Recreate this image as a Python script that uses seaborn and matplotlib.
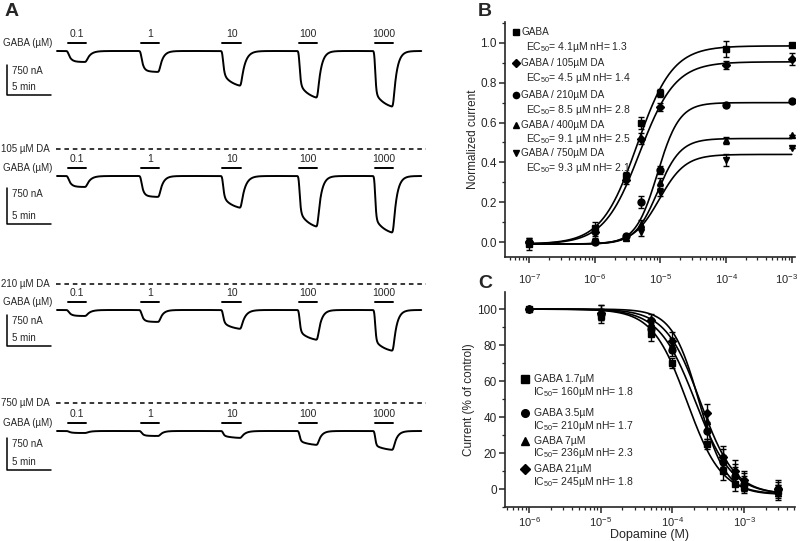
import numpy as np
import pandas as pd
import matplotlib
matplotlib.use("Agg")
import matplotlib.pyplot as plt
import matplotlib.transforms as mtransforms
import seaborn as sns
from matplotlib.ticker import LogLocator, MultipleLocator, NullFormatter

sns.set_style("ticks")
plt.rcParams['font.family'] = ['Liberation Sans', 'DejaVu Sans']
plt.rcParams['mathtext.fontset'] = 'custom'
plt.rcParams['mathtext.rm'] = 'Liberation Sans'
plt.rcParams['mathtext.it'] = 'Liberation Sans'

# ---------------- data ----------------
# Panel A: peak inward current for each GABA pulse (nA)
gaba_doses = ["0.1", "1", "10", "100", "1000"]
da_labels = ["", "105 µM DA", "210 µM DA", "750 µM DA"]
peak_ctrl = [275, 525, 875, 1175, 1400]
peak_da105 = [229, 437, 667, 1062, 1187]
peak_da210 = [145, 290, 460, 726, 992]
peak_da750 = [47, 117, 164, 328, 445]
pulse_start = [1.2, 9.5, 18.8, 27.5, 36.1]   # min
pulse_len = 2.1                               # min

# Panel B: GABA concentration-response with dopamine
gaba_conc = [1e-7, 1e-6, 3e-6, 5e-6, 1e-5, 1e-4, 1e-3]
b_gaba = [-0.01, 0.07, 0.33, 0.60, 0.75, 0.97, 0.99]
b_gaba_err = [0.03, 0.03, 0.02, 0.03, 0.02, 0.04, 0.01]
b_da105 = [0.00, 0.05, 0.31, 0.52, 0.68, 0.89, 0.92]
b_da105_err = [0.02, 0.02, 0.02, 0.03, 0.02, 0.02, 0.03]
b_da210 = [0.00, 0.00, 0.03, 0.20, 0.36, 0.69, 0.71]
b_da210_err = [0.01, 0.01, 0.01, 0.03, 0.02, 0.01, 0.00]
b_da400 = [0.00, 0.01, 0.02, 0.09, 0.30, 0.51, 0.54]
b_da400_err = [0.01, 0.01, 0.01, 0.02, 0.02, 0.02, 0.00]
b_da750 = [-0.01, 0.00, 0.02, 0.05, 0.25, 0.41, 0.47]
b_da750_err = [0.01, 0.01, 0.01, 0.02, 0.02, 0.03, 0.00]
# fitted curve parameters (top, EC50, nH)
b_fit_top = [0.985, 0.905, 0.70, 0.52, 0.44]
b_fit_ec50 = [4.4e-6, 4.8e-6, 9.0e-6, 9.1e-6, 9.6e-6]
b_fit_nh = [1.6, 1.6, 2.6, 2.5, 2.2]
b_names = ["GABA", "GABA / 105µM DA", "GABA / 210µM DA", "GABA / 400µM DA", "GABA / 750µM DA"]
b_stats = ["4.1µM nH= 1.3", "4.5 µM nH= 1.4", "8.5 µM nH= 2.8", "9.1 µM nH= 2.5", "9.3 µM nH= 2.1"]

# Panel C: dopamine inhibition at several GABA concentrations
da_conc = [1e-6, 1e-5, 5e-5, 1e-4, 3e-4, 5e-4, 7.5e-4, 1e-3, 3e-3]
c_g17 = [100, 96, 86, 70, 25, 10, 3, 1, -1]
c_g17_err = [1, 4, 4, 3, 3, 5, 4, 3, 3]
c_g35 = [100, 97, 89, 77, 32, 15, 7, 3, 0]
c_g35_err = [1, 3, 3, 3, 4, 4, 5, 4, 4]
c_g7 = [100, 99, 92, 80, 38, 17, 9, 4, -2]
c_g7_err = [1, 3, 3, 4, 5, 5, 5, 5, 4]
c_g21 = [100, 98, 94, 82, 42, 18, 10, 5, 0]
c_g21_err = [1, 4, 3, 5, 5, 6, 6, 5, 5]
c_fit_ic50 = [160e-6, 210e-6, 236e-6, 245e-6]
c_fit_nh = [1.8, 1.7, 2.3, 1.8]
c_names = ["GABA 1.7µM", "GABA 3.5µM", "GABA 7µM", "GABA 21µM"]
c_stats = ["160µM nH= 1.8", "210µM nH= 1.7", "236µM nH= 2.3", "245µM nH= 1.8"]

fig = plt.figure(figsize=(8, 5.41), dpi=100)

# ---------------- Panel A (drawn in pixel units) ----------------
axA = fig.add_axes([0, 0, 470 / 800, 1])
axA.set_xlim(0, 470)
axA.set_ylim(541, 0)
axA.axis("off")

peaks = [peak_ctrl, peak_da105, peak_da210, peak_da750]
row_base = [51, 176, 310, 431]
row_scale = [30, 36, 31, 32]      # px per 750 nA
row_dash = [None, 149, 284, 403]
row_vtop = [65, 188, 315, 438]
x0, px_min = 57, 8.8
# onset: fast fraction + slow component; recovery: single exponential
fast_frac = [0.95, 0.9, 0.6, 0.65, 0.7]
tau_fast = [0.3, 0.22, 0.12, 0.1, 0.08]
tau_slow = 1.2
tau_off = [0.45, 0.4, 0.45, 0.4, 0.4]

t = np.linspace(-1, 42.5, 4000)
dt = t[1] - t[0]
kern = np.exp(-0.5 * (np.arange(-40, 41) * dt / 0.08) ** 2)
kern /= kern.sum()

for r in range(4):
    base = row_base[r]
    k = row_scale[r] / 750
    cur = np.zeros_like(t)
    for i, amp in enumerate(peaks[r]):
        ts, te = pulse_start[i], pulse_start[i] + pulse_len
        f = fast_frac[i]

        def shape(tt):
            return f * (1 - np.exp(-tt / tau_fast[i])) + (1 - f) * (1 - np.exp(-tt / tau_slow))

        on = (t >= ts) & (t < te)
        cur[on] += amp * shape(t[on] - ts) / shape(pulse_len)
        off = t >= te
        cur[off] += amp * np.exp(-(t[off] - te) / tau_off[i])
    cur = np.convolve(np.pad(cur, 40, mode="edge"), kern, mode="valid")
    keep = (t >= 0) & (t <= 41.4)
    axA.plot(x0 + t[keep] * px_min, base + cur[keep] * k, color="k", lw=1.4)

    # pulse bars and labels
    for i, dose in enumerate(gaba_doses):
        xs = x0 + pulse_start[i] * px_min
        xe = xs + pulse_len * px_min
        axA.plot([xs, xe], [base - 8, base - 8], color="k", lw=1.4)
        axA.text((xs + xe) / 2, base - 12, dose, ha="center", va="bottom", fontsize=7.5)
    axA.text(52, base - 8, "GABA (µM)", ha="right", va="center", fontsize=7)

    # scale bar
    vb = row_vtop[r] + row_scale[r]
    axA.plot([7, 7, 51], [row_vtop[r], vb, vb], color="k", lw=1.1)
    axA.text(12, row_vtop[r] + 6, "750 nA", ha="left", va="center", fontsize=7)
    axA.text(12, vb - 3, "5 min", ha="left", va="bottom", fontsize=7)

    if row_dash[r] is not None:
        axA.plot([56, 426], [row_dash[r]] * 2, color="k", lw=1.1, ls=(0, (3, 2.5)))
        axA.text(1, row_dash[r], da_labels[r], ha="left", va="center", fontsize=7)

fig.text(5 / 800, 1 - 12 / 541, "A", fontsize=14, fontweight="bold", va="center")
fig.text(478 / 800, 1 - 12 / 541, "B", fontsize=14, fontweight="bold", va="center")
fig.text(478 / 800, 1 - 283 / 541, "C", fontsize=14, fontweight="bold", va="center")


def style_axis(ax):
    sns.despine(ax=ax)
    for s in ["left", "bottom"]:
        ax.spines[s].set_linewidth(1.2)
    ax.tick_params(which="major", direction="out", length=4, width=1.1, labelsize=8.5, pad=2)
    ax.tick_params(which="minor", direction="out", length=2.2, width=0.9)
    ax.tick_params(axis="x", which="major", labelsize=8)
    ax.set_xscale("log")
    ax.xaxis.set_minor_locator(LogLocator(base=10, subs=np.arange(2, 10)))
    ax.xaxis.set_minor_formatter(NullFormatter())


# ---------------- Panel B ----------------
axB = fig.add_axes([505 / 800, 1 - 257 / 541, 290 / 800, 235 / 541])
style_axis(axB)
b_series = [(b_gaba, b_gaba_err, "s"), (b_da105, b_da105_err, "D"), (b_da210, b_da210_err, "o"),
            (b_da400, b_da400_err, "^"), (b_da750, b_da750_err, "v")]
xf = np.logspace(-7, -3, 300)
for i, (vals, errs, mk) in enumerate(b_series):
    yf = -0.01 + (b_fit_top[i] + 0.01) * xf ** b_fit_nh[i] / (xf ** b_fit_nh[i] + b_fit_ec50[i] ** b_fit_nh[i])
    sns.lineplot(x=xf, y=yf, ax=axB, color="k", lw=1.2)
    axB.errorbar(gaba_conc, vals, yerr=errs, fmt=mk, color="k",
                 ms=4.5 if mk == "D" else 5, capsize=2.5, elinewidth=1, capthick=1)
axB.set_xlim(10 ** -7.37, 10 ** -2.95)
axB.set_xticks([1e-7, 1e-6, 1e-5, 1e-4, 1e-3])
axB.yaxis.set_major_locator(MultipleLocator(0.2))
axB.yaxis.set_minor_locator(MultipleLocator(0.1))
axB.set_ylim(-0.075, 1.105)
axB.yaxis.set_major_formatter(plt.FuncFormatter(lambda v, p: f"{v:.1f}"))
axB.set_ylabel("Normalized current", fontsize=8.5, labelpad=1)
axB.xaxis.set_tick_params(pad=7)
# nudge the last tick label so it stays inside the figure
last = axB.get_xticklabels()[-1]
last.set_transform(last.get_transform() + mtransforms.ScaledTranslation(-4 / 72, 0, fig.dpi_scale_trans))

leg_y = [0.957, 0.826, 0.689, 0.562, 0.443]
stat_y = [0.894, 0.762, 0.626, 0.502, 0.379]
for i, (vals, errs, mk) in enumerate(b_series):
    axB.plot([0.038], [leg_y[i]], marker=mk, color="k", ms=4.5, transform=axB.transAxes, clip_on=False)
    axB.text(0.056, leg_y[i], b_names[i], transform=axB.transAxes, fontsize=7.2, va="center")
    axB.text(0.072, stat_y[i], "EC$_{50}$= " + b_stats[i], transform=axB.transAxes, fontsize=7.5, va="center")

# ---------------- Panel C ----------------
axC = fig.add_axes([505 / 800, 1 - 507 / 541, 290 / 800, 215 / 541])
style_axis(axC)
c_series = [(c_g17, c_g17_err, "s"), (c_g35, c_g35_err, "o"), (c_g7, c_g7_err, "^"), (c_g21, c_g21_err, "D")]
xf = np.logspace(-6, np.log10(3e-3), 300)
for i, (vals, errs, mk) in enumerate(c_series):
    yf = -3 + 103 / (1 + (xf / c_fit_ic50[i]) ** c_fit_nh[i])
    sns.lineplot(x=xf, y=yf, ax=axC, color="k", lw=1.2)
    axC.errorbar(da_conc, vals, yerr=errs, fmt=mk, color="k",
                 ms=4.5 if mk == "D" else 5, capsize=2.5, elinewidth=1, capthick=1)
axC.set_xlim(10 ** -6.335, 10 ** -2.29)
axC.set_xticks([1e-6, 1e-5, 1e-4, 1e-3])
axC.yaxis.set_major_locator(MultipleLocator(20))
axC.yaxis.set_minor_locator(MultipleLocator(10))
axC.set_ylim(-10, 109.5)
axC.set_ylabel("Current (% of control)", fontsize=8.5, labelpad=1)
axC.set_xlabel("Dopamine (M)", fontsize=9, labelpad=0)

leg_y = [0.595, 0.437, 0.307, 0.177]
stat_y = [0.535, 0.377, 0.251, 0.116]
for i, (vals, errs, mk) in enumerate(c_series):
    axC.plot([0.069], [leg_y[i]], marker=mk, color="k", ms=5.5, transform=axC.transAxes, clip_on=False)
    axC.text(0.1, leg_y[i], c_names[i], transform=axC.transAxes, fontsize=7.5, va="center")
    axC.text(0.097, stat_y[i], "IC$_{50}$= " + c_stats[i], transform=axC.transAxes, fontsize=7.5, va="center")

fig.savefig("out.png", dpi=100)
